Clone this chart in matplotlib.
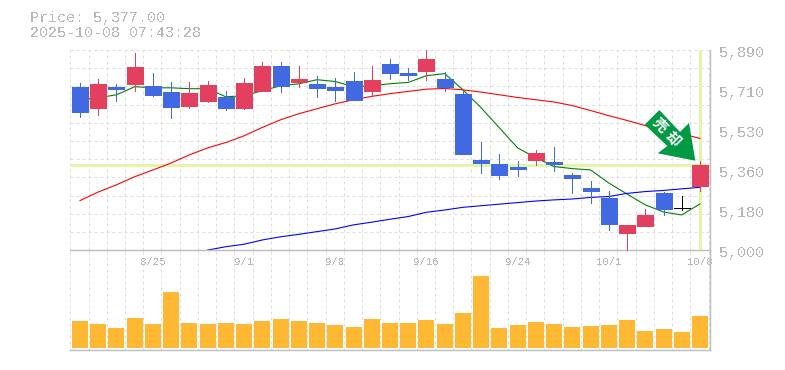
import matplotlib
matplotlib.use('Agg')
import matplotlib.pyplot as plt
from matplotlib.patches import Polygon
from matplotlib.transforms import Affine2D
import numpy as np

plt.rcParams['text.antialiased'] = False
plt.rcParams['font.family'] = ['Liberation Mono', 'DejaVu Sans']

W, H = 785, 370
DPI = 100
px = 0.72  # one pixel in points

opens = [5727, 5633, 5727, 5740, 5731, 5704, 5642, 5664, 5682, 5633, 5709, 5820, 5749, 5740, 5727, 5753, 5709, 5829,
         5789, 5798, 5762, 5696, 5402, 5384, 5371, 5402, 5393, 5335, 5277, 5233, 5077, 5108, 5255, 5190, 5286]
highs = [5744, 5762, 5740, 5878, 5789, 5749, 5749, 5753, 5709, 5767, 5838, 5838, 5820, 5776, 5767, 5793, 5820, 5851,
         5811, 5891, 5793, 5713, 5482, 5428, 5397, 5446, 5460, 5344, 5308, 5264, 5113, 5184, 5259, 5242, 5397]
lows = [5593, 5602, 5664, 5709, 5687, 5589, 5633, 5660, 5624, 5629, 5709, 5704, 5727, 5682, 5664, 5669, 5687, 5762,
        5758, 5758, 5709, 5428, 5344, 5317, 5331, 5380, 5353, 5255, 5210, 5090, 5000, 5108, 5157, 5179, 5264]
closes = [5615, 5740, 5718, 5816, 5691, 5638, 5700, 5736, 5633, 5744, 5820, 5731, 5762, 5722, 5713, 5669, 5758, 5789,
          5780, 5851, 5727, 5428, 5388, 5335, 5362, 5433, 5384, 5322, 5264, 5117, 5113, 5157, 5184, 5190, 5377]

ma_short = [5669, 5678, 5691, 5727, 5722, 5722, 5718, 5718, 5682, 5687, 5709, 5731, 5740, 5758, 5750, 5727, 5731, 5740,
            5746, 5776, 5785, 5713, 5633, 5544, 5455, 5411, 5372, 5363, 5357, 5299, 5250, 5202, 5170, 5157, 5206]
ma_mid = [5221, 5259, 5291, 5327, 5357, 5388, 5424, 5455, 5479, 5509, 5546, 5580, 5607, 5629, 5651, 5669, 5684, 5696,
          5706, 5716, 5719, 5713, 5703, 5691, 5679, 5669, 5659, 5643, 5621, 5598, 5577, 5554, 5538, 5518, 5497]
ma_long = [np.nan] * 7 + [5001, 5016, 5027, 5046, 5060, 5071, 5083, 5095, 5113, 5125, 5138, 5150, 5169, 5179, 5191,
                          5198, 5205, 5212, 5219, 5224, 5228, 5235, 5239, 5253, 5261, 5266, 5273, 5280]

volumes = [26.3, 23.3, 19.3, 29.3, 23.3, 55.3, 24.3, 23.3, 24.3, 23.3, 26.3, 28.3, 26.3, 24.3, 22.3, 20.3, 28.3, 24.3,
           24.3, 27.3, 23.3, 34.3, 71.3, 19.3, 22.3, 25.3, 23.3, 20.3, 21.3, 22.3, 27.3, 16.3, 18.3, 15.3, 31.3]

price_labels = ['5,000', '5,180', '5,360', '5,530', '5,710', '5,890']
date_labels = ['8/25', '9/1', '9/8', '9/16', '9/24', '10/1', '10/8']
date_pos = [4, 9, 14, 19, 24, 29, 34]
last_price = 5377
last_index = 34

BLUE = '#4169e1'
RED = '#e2405e'
GRID = '#dddddd'
AXIS = '#bdbdbd'
TEXT = '#b8b8b8'
MARK = '#e4f5a8'
GREEN_ARROW = '#009944'

fig = plt.figure(figsize=(W / DPI, H / DPI), dpi=DPI)


def pixel_axes(left, top, right, bottom):
    return fig.add_axes([left / W, 1 - bottom / H, (right - left) / W, (bottom - top) / H])


ax_vol = pixel_axes(70.3, 250.3, 710, 350)
ax = pixel_axes(70.3, 50, 710, 250.3)
ax_vol.patch.set_visible(False)
ax.patch.set_visible(False)

x = np.arange(len(opens))
step = 18.235
xlim = ((70.3 - 80) / step, (710 - 80) / step)
grid_x = xlim[0] + np.arange(36)

for a in (ax, ax_vol):
    a.set_xlim(xlim)
    a.set_xticks(grid_x, minor=True)
    a.set_xticks([])
    a.tick_params(which='both', length=0, labelleft=False, labelbottom=False)
    a.grid(which='minor', axis='x', color=GRID, lw=px, ls=(0, (3, 3)))
    a.set_axisbelow(True)
    a.spines['left'].set_visible(False)
    a.spines['top'].set_visible(False)
    a.spines['right'].set_color(AXIS)
    a.spines['bottom'].set_color(AXIS)
    a.spines['right'].set_linewidth(1.4 * px)
    a.spines['bottom'].set_linewidth(1.4 * px)

ax.set_ylim(5000, 5890)
ax.set_yticks(np.linspace(5000, 5890, 12))
ax.grid(axis='y', color=GRID, lw=px, ls=(0, (3, 3)))

# current price cross
ax.axhline(last_price, color=MARK, lw=3 * px, zorder=1.5, antialiased=False)
ax.plot([last_index, last_index], [5007, 5885], color=MARK, lw=3 * px, zorder=1.5, solid_capstyle='butt',
        antialiased=False)

ax.plot(x, ma_short, color='#008000', lw=px * 1.1, zorder=2)
ax.plot(x, ma_mid, color='#ff0000', lw=px * 1.1, zorder=2)
ax.plot(x, ma_long, color='#0000ff', lw=px * 1.1, zorder=2, clip_on=False)

# candles
for i in x:
    o, h, l, c = opens[i], highs[i], lows[i], closes[i]
    col = 'black' if o == c else (RED if c > o else BLUE)
    ax.vlines(i, l, h, color=col, lw=px, zorder=3, antialiased=False, clip_on=False)
    if o == c:
        ax.hlines(o, i - 0.44, i + 0.44, color=col, lw=px, zorder=3, antialiased=False)
    else:
        ax.bar(i, abs(c - o), bottom=min(o, c), width=0.877, color=col, edgecolor=col, lw=0.5 * px, zorder=3,
               antialiased=False)

for v, lab in zip(np.linspace(5000, 5890, 6), price_labels):
    ax.annotate(lab, (1, v), xycoords=('axes fraction', 'data'), xytext=(9, -3), textcoords='offset pixels',
                fontsize=10.8, color=TEXT, va='center', ha='left', annotation_clip=False)
for i, lab in zip(date_pos, date_labels):
    ax.annotate(lab, (i, 0), xycoords=('data', 'axes fraction'), xytext=(0, -12), textcoords='offset pixels',
                fontsize=7.7, color=TEXT, va='center', ha='center', annotation_clip=False, zorder=6)

ax_vol.set_ylim(-2.3, 97.4)
ax_vol.bar(x, volumes, width=0.877, color='#ffb833', zorder=3, antialiased=False)

fig.text(30 / W, 1 - 18 / H, 'Price: 5,377.00', fontsize=10.8, color=TEXT, va='center', ha='left')
fig.text(30 / W, 1 - 33 / H, '2025-10-08 07:43:28', fontsize=10.8, color=TEXT, va='center', ha='left')

# signal arrow, drawn in picture pixels
to_px = Affine2D().scale(1, -1).translate(0, H)
arrow = [(659.3, 110), (644.7, 124.7), (667.3, 146), (657.7, 153.3), (695.3, 160.7), (689, 123), (680, 132)]
fig.add_artist(Polygon(arrow, closed=True, facecolor=GREEN_ARROW, edgecolor='none', transform=to_px, zorder=10))
for (tx, ty), ch in zip([(660, 124.7), (673.3, 138.7)], ['売', '却']):
    fig.text(tx / W, 1 - ty / H, ch, fontsize=10.5, color='white', fontweight='bold', rotation=-45,
             rotation_mode='anchor', ha='center', va='center', family=['Noto Sans CJK JP', 'DejaVu Sans'], zorder=11,
             antialiased=True)

fig.savefig('out.png', dpi=DPI)
